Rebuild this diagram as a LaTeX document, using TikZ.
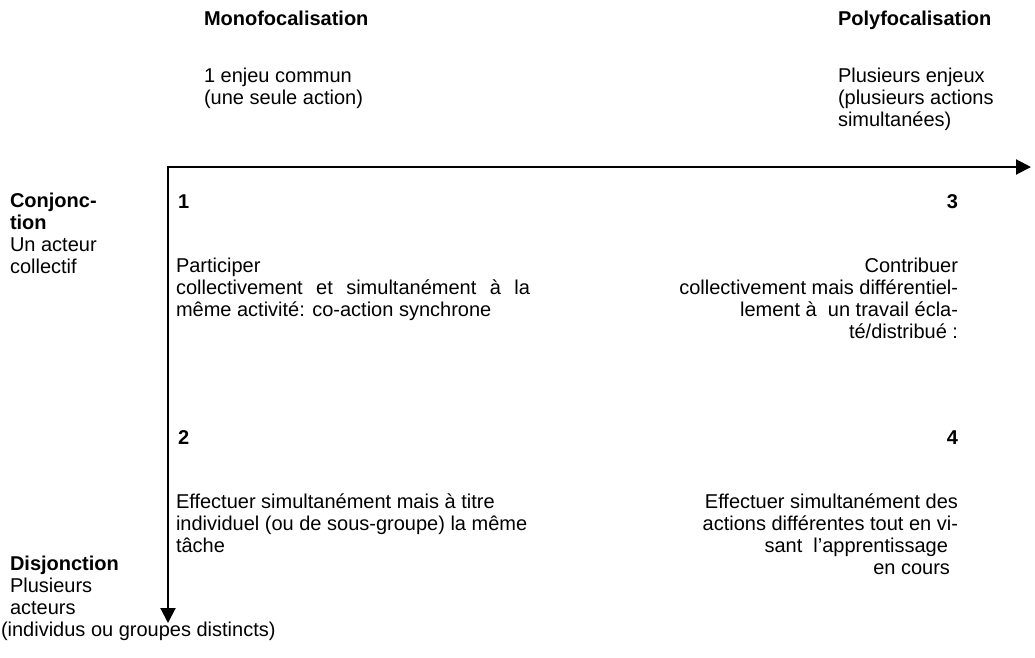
\documentclass[tikz,border=0pt]{standalone}
\usepackage{fontspec}
\setmainfont{Liberation Sans}
\usetikzlibrary{arrows.meta,positioning}

\begin{document}
\begin{tikzpicture}[
    x=1pt, y=-1pt,
    every node/.style={inner sep=0pt, outer sep=0pt},
    txt/.style={font=\fontsize{20}{22}\selectfont, align=left, anchor=base west},
    rtxt/.style={font=\fontsize{20}{22}\selectfont, align=right, anchor=base east},
    head/.style={txt, font=\fontsize{20}{22}\selectfont\bfseries},
    num/.style={font=\fontsize{20}{22}\selectfont\bfseries},
    axis/.style={{Triangle[length=15pt, width=15pt]}-{Triangle[length=15pt, width=15pt]}, line width=2pt}
]
    \useasboundingbox (0,0) rectangle (1035,657);

    % Column headings (multi-line nodes sit on their last baseline)
    \node[head] (mono) at (204,25) {Monofocalisation};
    \node[txt] (monotxt) at (204,104) {1 enjeu commun\\(une seule action)};
    \node[head] (poly) at (838,25) {Polyfocalisation};
    \node[txt] (polytxt) at (838,126) {Plusieurs enjeux\\(plusieurs actions\\simultanées)};

    % Row headings
    \node[txt] (conj) at (10,273) {\bfseries Conjonc-\\\bfseries tion\\Un acteur\\collectif};
    \node[txt] (disj) at (10,636) {\bfseries Disjonction\\Plusieurs\\acteurs\\\hspace*{-9pt}(individus ou groupes distincts)};

    % Axes
    \coordinate (origin) at (168,167);
    \coordinate (xtip) at (1031,167);
    \coordinate (ytip) at (168,623);
    \draw[axis] (ytip) -- (origin) -- (xtip);

    % Top row
    \node[num, anchor=base west] (one) at (178,208) {1};
    \node[num, anchor=base east] (three) at (958,208) {3};
    \node[txt] (cell1) at (176,316) {Participer\\\makebox[354pt][s]{collectivement et simultanément à la}\\même activité: co-action synchrone};
    \node[rtxt] (cell3) at (958,338) {Contribuer\\collectivement mais différentiel-\\lement à~~un travail écla-\\té/distribué :};

    % Bottom row
    \node[num, anchor=base west] (two) at (178,444) {2};
    \node[num, anchor=base east] (four) at (958,444) {4};
    \node[txt] (cell2) at (176,552) {Effectuer simultanément mais à titre\\individuel (ou de sous-groupe) la même\\tâche};
    \node[rtxt] (cell4) at (958,574) {Effectuer simultanément des\\actions différentes tout en vi-\\sant~~l'apprentissage\kern10pt\\en cours\kern8pt};
\end{tikzpicture}
\end{document}
